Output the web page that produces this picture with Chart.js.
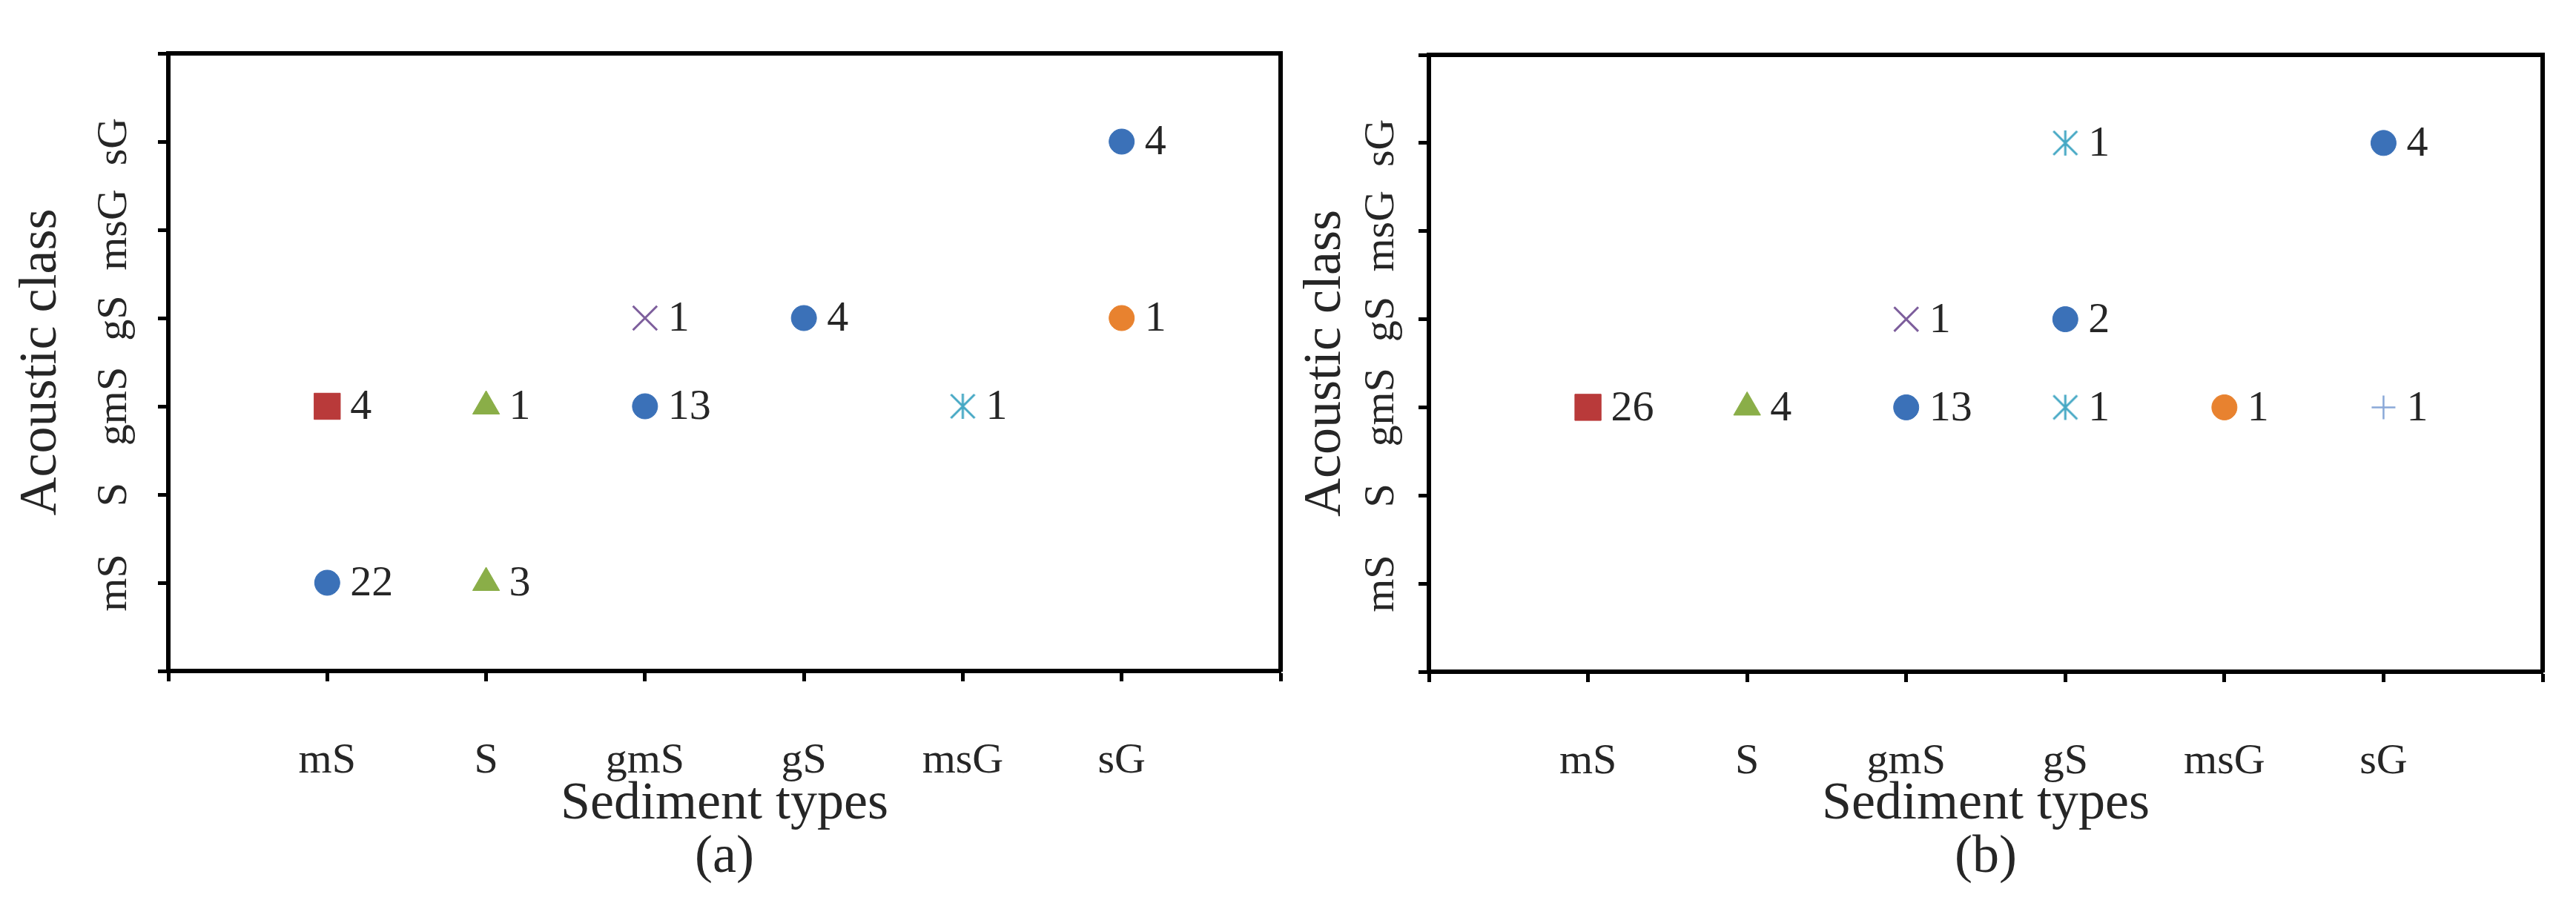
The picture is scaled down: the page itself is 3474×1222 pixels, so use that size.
<!DOCTYPE html>
<html>
<head>
<meta charset="utf-8">
<script src="https://cdn.jsdelivr.net/npm/chart.js@4.4.1/dist/chart.umd.min.js"></script>
<style>
  html, body { margin: 0; padding: 0; background: #fff; }
  #wrap { position: relative; width: 3474px; height: 1222px; }
  .panel { position: absolute; top: 0; width: 1737px; height: 1222px; }
</style>
</head>
<body>
<div id="wrap">
  <div class="panel" style="left:0"><canvas id="chartA" width="1737" height="1222"></canvas></div>
  <div class="panel" style="left:1737px"><canvas id="chartB" width="1737" height="1222"></canvas></div>
</div>
<script>
const sedimentTypes = ['mS', 'S', 'gmS', 'gS', 'msG', 'sG'];
const acousticClasses = ['mS', 'S', 'gmS', 'gS', 'msG', 'sG'];

// panel (a): one entry per marker
const aSediment = ['mS', 'gmS', 'gS', 'sG', 'mS', 'S', 'S', 'gmS', 'msG', 'sG'];
const aClass    = ['mS', 'gmS', 'gS', 'sG', 'gmS', 'gmS', 'mS', 'gS', 'gmS', 'gS'];
const aCount    = [22, 13, 4, 4, 4, 1, 3, 1, 1, 1];
const aSeries   = [0, 0, 0, 0, 1, 2, 2, 3, 4, 5];

// panel (b)
const bSediment = ['gmS', 'gS', 'sG', 'mS', 'S', 'gmS', 'gS', 'gS', 'msG', 'sG'];
const bClass    = ['gmS', 'gS', 'sG', 'gmS', 'gmS', 'gS', 'sG', 'gmS', 'gmS', 'gmS'];
const bCount    = [13, 2, 4, 26, 4, 1, 1, 1, 1, 1];
const bSeries   = [0, 0, 0, 1, 2, 3, 4, 4, 5, 6];

const FONT = '"Liberation Serif", "Times New Roman", serif';
const TEXT = '#262626';

// excel-like asterisk (x with a vertical bar)
function asterisk(color) {
    const c = document.createElement('canvas');
    c.width = 38; c.height = 38;
    const g = c.getContext('2d');
    g.strokeStyle = color;
    g.lineWidth = 3;
    g.beginPath();
    g.moveTo(19, 2); g.lineTo(19, 36);
    g.moveTo(3, 3); g.lineTo(35, 35);
    g.moveTo(35, 3); g.lineTo(3, 35);
    g.stroke();
    return c;
}

const markers = [
    { color: '#3b71b8', style: 'circle', radius: 17, lw: 1 },
    { color: '#b93a3a', style: 'rect', radius: 25, lw: 1 },
    { color: '#8aae48', style: 'triangle', radius: 21, lw: 1 },
    { color: '#7d5e9c', style: 'crossRot', radius: 23, lw: 3 },
    { color: '#45a8c4', style: asterisk('#45a8c4'), radius: 18, lw: 1 },
    { color: '#e8822f', style: 'circle', radius: 17, lw: 1 },
    { color: '#8aa8d8', style: 'cross', radius: 16, lw: 2.5 }
];

function buildDatasets(sed, cls, cnt, ser) {
    return markers.map((m, k) => {
        const idx = ser.map((s, i) => s === k ? i : -1).filter(i => i >= 0);
        return {
            data: idx.map(i => ({ x: sedimentTypes.indexOf(sed[i]) + 1, y: acousticClasses.indexOf(cls[i]) + 1 })),
            counts: idx.map(i => cnt[i]),
            pointStyle: m.style,
            pointRadius: m.radius,
            pointHoverRadius: m.radius,
            backgroundColor: m.color,
            borderColor: m.color,
            borderWidth: m.lw,
            xAxisID: 'x',
            yAxisID: 'y'
        };
    }).filter(d => d.data.length);
}

// numbers next to the markers
const countLabels = {
    id: 'countLabels',
    afterDatasetsDraw(chart) {
        const ctx = chart.ctx;
        ctx.save();
        ctx.font = '58px ' + FONT;
        ctx.fillStyle = TEXT;
        ctx.textAlign = 'left';
        ctx.textBaseline = 'middle';
        chart.data.datasets.forEach((ds, i) => {
            chart.getDatasetMeta(i).data.forEach((pt, j) => {
                ctx.fillText(String(ds.counts[j]), pt.x + 31, pt.y + 2);
            });
        });
        ctx.restore();
    }
};

// scales ask for extra room for their labels; the layout here is fixed by hand
function noPad(s) {
    s.paddingLeft = s.paddingRight = s.paddingTop = s.paddingBottom = 0;
}

function frameAxis(axis, position) {
    return {
        type: 'linear', axis, position, min: 0, max: 7,
        ticks: { display: false },
        grid: { display: false },
        border: { display: true, color: '#000', width: 6 },
        afterFit: s => { noPad(s); if (axis === 'x') s.height = 0; else s.width = 0; }
    };
}

function makeChart(id, datasets, p) {
    return new Chart(document.getElementById(id), {
        type: 'scatter',
        data: { datasets },
        options: {
            responsive: false,
            animation: false,
            devicePixelRatio: 1,
            layout: { autoPadding: false, padding: { left: 0, top: p.top, right: p.right, bottom: 0 } },
            plugins: { legend: { display: false }, tooltip: { enabled: false } },
            scales: {
                x: {
                    type: 'linear', position: 'bottom', min: 0, max: 7,
                    ticks: {
                        stepSize: 1, autoSkip: false, maxRotation: 0, minRotation: 0,
                        padding: p.xTickPad, color: TEXT, font: { family: FONT, size: 58 },
                        callback: v => sedimentTypes[v - 1] || ''
                    },
                    grid: { display: true, drawOnChartArea: false, drawTicks: true, tickLength: 14, tickWidth: 5, tickColor: '#000' },
                    border: { display: true, color: '#000', width: 6 },
                    title: {
                        display: true, text: ['Sediment types', p.label], color: TEXT,
                        font: { family: FONT, size: 72, lineHeight: 1 },
                        padding: { top: 0, bottom: 29 }
                    },
                    afterFit: s => { noPad(s); s.height = 1222 - p.bottom; }
                },
                y: {
                    type: 'linear', position: 'left', min: 0, max: 7,
                    ticks: {
                        stepSize: 1, autoSkip: false, minRotation: 90, maxRotation: 90, crossAlign: 'center',
                        padding: p.yTickPad, color: TEXT, font: { family: FONT, size: 58 },
                        callback: v => acousticClasses[v - 1] || ''
                    },
                    grid: { display: true, drawOnChartArea: false, drawTicks: true, tickLength: 14, tickWidth: 5, tickColor: '#000' },
                    border: { display: true, color: '#000', width: 6 },
                    title: {
                        display: true, text: 'Acoustic class', color: TEXT,
                        font: { family: FONT, size: 72, lineHeight: 1 },
                        padding: { top: p.yTitlePad, bottom: 0 }
                    },
                    afterFit: s => { noPad(s); s.width = p.left; }
                },
                xTop: frameAxis('x', 'top'),
                yRight: frameAxis('y', 'right')
            }
        },
        plugins: [countLabels]
    });
}

makeChart('chartA', buildDatasets(aSediment, aClass, aCount, aSeries),
    { left: 227, right: 10, top: 72, bottom: 905, xTickPad: 73, yTickPad: 3, yTitlePad: 20, label: '(a)' });
makeChart('chartB', buildDatasets(bSediment, bClass, bCount, bSeries),
    { left: 190, right: 45, top: 74, bottom: 906, xTickPad: 73, yTickPad: -6, yTitlePad: 15, label: '(b)' });
</script>
</body>
</html>
